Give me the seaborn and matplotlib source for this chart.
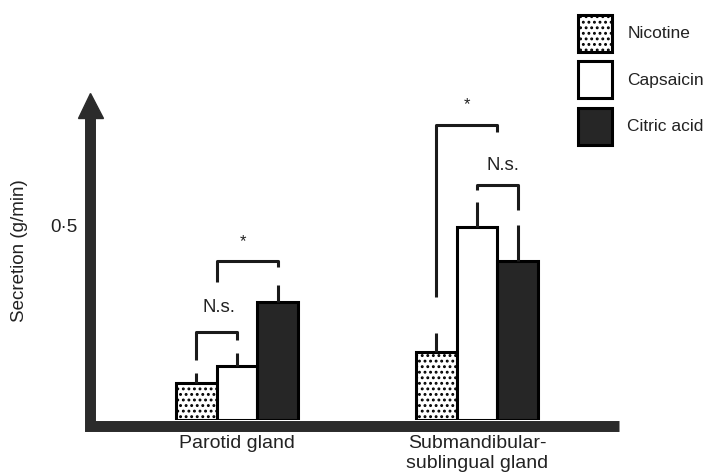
import numpy as np
import pandas as pd
import matplotlib
matplotlib.use("Agg")
import matplotlib.pyplot as plt
import matplotlib.transforms as mtransforms
from matplotlib.patches import Patch
import seaborn as sns

# ---------------- data ----------------
glands = ["Parotid gland", "Submandibular-\nsublingual gland"]
stimuli = ["Nicotine", "Capsaicin", "Citric acid"]
nicotine = [0.095, 0.175]
capsaicin = [0.139, 0.497]
citric = [0.304, 0.410]
nicotine_err = [0.026, 0.049]
capsaicin_err = [0.034, 0.065]
citric_err = [0.044, 0.093]

# significance brackets: gland index, left/right hue positions, top, leg ends
bracket_gland = [0, 0, 1, 1]
bracket_left = [0.0, 0.5, 0.0, 1.0]
bracket_right = [1.0, 2.0, 1.5, 2.0]
bracket_top = [0.227, 0.410, 0.760, 0.606]
bracket_left_end = [0.155, 0.356, 0.317, 0.593]
bracket_right_end = [0.206, 0.394, 0.742, 0.541]

# annotations
note_text = ["N.s.", "*", "*", "N.s."]
note_x = [-0.075, 0.025, 0.958, 1.108]
note_y = [0.291, 0.459, 0.812, 0.655]

df = pd.DataFrame({
    "gland": glands * 3,
    "stimulus": [s for s in stimuli for _ in glands],
    "value": nicotine + capsaicin + citric,
})
errs = [nicotine_err, capsaicin_err, citric_err]

# ---------------- style ----------------
sns.set_style("white")
plt.rcParams["font.family"] = ["Liberation Sans", "DejaVu Sans"]
plt.rcParams["hatch.linewidth"] = 1.3
plt.rcParams["hatch.color"] = "black"

W, H = 717, 476
fig = plt.figure(figsize=(W / 100, H / 100), dpi=100)
ax_left, ax_right, ax_bottom, ax_top = 95.5, 624.5, 420, 100
ax = fig.add_axes([ax_left / W, (H - ax_bottom) / H,
                   (ax_right - ax_left) / W, (ax_bottom - ax_top) / H])

dark = "#262626"
palette = {"Nicotine": "white", "Capsaicin": "white", "Citric acid": dark}
sns.barplot(data=df, x="gland", y="value", hue="stimulus", hue_order=stimuli,
            order=glands, palette=palette, width=0.51, edgecolor="black",
            linewidth=2.2, errorbar=None, legend=False, saturation=1, ax=ax)

for bar in ax.containers[0]:
    bar.set_hatch("...")

# error bars (upper only)
for h, cont in enumerate(ax.containers):
    for g, bar in enumerate(cont):
        x = bar.get_x() + bar.get_width() / 2
        y = bar.get_height()
        ax.plot([x, x], [y, y + errs[h][g]], color="#1a1a1a", lw=2.2,
                solid_capstyle="butt", zorder=1)

bw = ax.containers[0][0].get_width()


def hx(g, h):
    return g + (h - 1) * bw


for g, l, r, t, le, re in zip(bracket_gland, bracket_left, bracket_right,
                              bracket_top, bracket_left_end, bracket_right_end):
    ax.plot([hx(g, l), hx(g, l), hx(g, r), hx(g, r)], [le, t, t, re],
            color="#1a1a1a", lw=2.2, solid_joinstyle="round",
            solid_capstyle="butt", zorder=3)

for txt, x, y in zip(note_text, note_x, note_y):
    ax.text(x, y, txt, ha="center", va="center",
            fontsize=13.3 if txt != "*" else 12, color="#222222")

# limits: group centres at 237 and 477 px
px_per_unit = 240.0
ax.set_xlim((ax_left - 237) / px_per_unit, (ax_right - 237) / px_per_unit)
ax.set_ylim(0, (ax_bottom - ax_top) / 388.0)

for s in ax.spines.values():
    s.set_visible(False)

# thick axes with arrow
off = mtransforms.offset_copy(ax.transAxes, fig=fig, x=-5.5, y=-5.5, units="dots")
ax.plot([0, 0, 1], [1, 0, 0], transform=off, color="#2b2b2b", lw=7.9,
        solid_joinstyle="miter", solid_capstyle="butt", clip_on=False, zorder=5)
ax.plot([0], [1], transform=off, marker="^", markersize=18, color="#2b2b2b",
        clip_on=False, zorder=5)

ax.set_yticks([0.5])
ax.set_yticklabels(["0·5"])
ax.tick_params(axis="y", length=0, pad=12.6, labelsize=13.5, labelcolor="#222222")
ax.tick_params(axis="x", length=0, pad=10.5, labelsize=14, labelcolor="#222222")
for lab in ax.get_xticklabels():
    lab.set_linespacing(1.3)
ax.set_xlabel("")
ax.set_ylabel("Secretion (g/min)", fontsize=13.5, color="#222222")
ax.yaxis.set_label_coords(-0.128, 0.53)

handles = [Patch(facecolor="white", edgecolor="black", hatch="...", lw=2.2),
           Patch(facecolor="white", edgecolor="black", lw=2.2),
           Patch(facecolor=dark, edgecolor="black", lw=2.2)]
fig.legend(handles, stimuli, loc="upper left",
           bbox_to_anchor=(569 / W, 1 - 6 / H), bbox_transform=fig.transFigure,
           frameon=False, borderpad=0, handlelength=1.95, handleheight=2.9,
           labelspacing=0.55, handletextpad=0.9, fontsize=12.5,
           labelcolor="#222222")

fig.savefig("out.png", dpi=100)
